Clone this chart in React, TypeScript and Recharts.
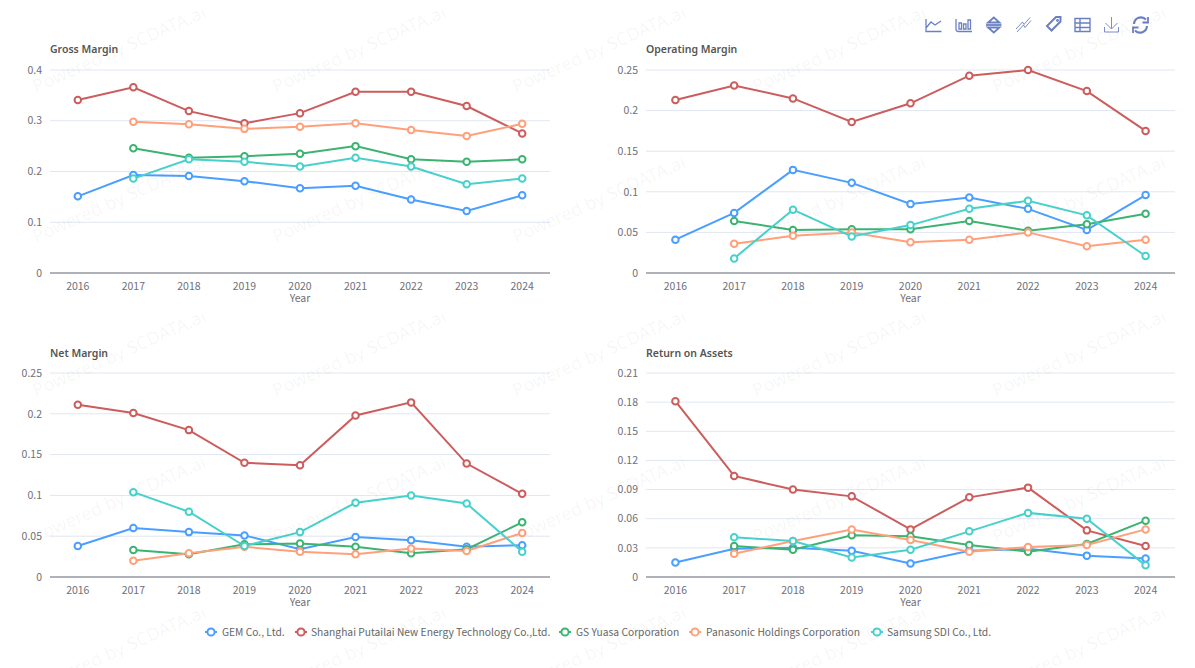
import { LineChart, Line, XAxis, YAxis, CartesianGrid } from "recharts";

const years = ["2016", "2017", "2018", "2019", "2020", "2021", "2022", "2023", "2024"];

type Row = (number | null)[];

const grossGem: Row = [0.151, 0.193, 0.191, 0.181, 0.167, 0.172, 0.145, 0.122, 0.153];
const grossPutailai: Row = [0.341, 0.366, 0.319, 0.295, 0.315, 0.357, 0.357, 0.329, 0.275];
const grossYuasa: Row = [null, 0.246, 0.227, 0.23, 0.235, 0.25, 0.224, 0.219, 0.224];
const grossPanasonic: Row = [null, 0.298, 0.293, 0.284, 0.288, 0.295, 0.282, 0.27, 0.294];
const grossSdi: Row = [null, 0.186, 0.224, 0.219, 0.21, 0.227, 0.21, 0.175, 0.186];

const opGem: Row = [0.041, 0.074, 0.127, 0.111, 0.085, 0.093, 0.079, 0.053, 0.096];
const opPutailai: Row = [0.213, 0.231, 0.215, 0.186, 0.209, 0.243, 0.25, 0.224, 0.175];
const opYuasa: Row = [null, 0.064, 0.053, 0.054, 0.054, 0.064, 0.052, 0.06, 0.073];
const opPanasonic: Row = [null, 0.036, 0.046, 0.05, 0.038, 0.041, 0.05, 0.033, 0.041];
const opSdi: Row = [null, 0.018, 0.078, 0.045, 0.059, 0.079, 0.089, 0.071, 0.021];

const netGem: Row = [0.038, 0.06, 0.055, 0.051, 0.034, 0.049, 0.045, 0.037, 0.039];
const netPutailai: Row = [0.211, 0.201, 0.18, 0.14, 0.137, 0.198, 0.214, 0.139, 0.102];
const netYuasa: Row = [null, 0.033, 0.028, 0.04, 0.041, 0.037, 0.029, 0.034, 0.067];
const netPanasonic: Row = [null, 0.02, 0.029, 0.037, 0.031, 0.028, 0.035, 0.032, 0.054];
const netSdi: Row = [null, 0.104, 0.08, 0.038, 0.055, 0.091, 0.1, 0.09, 0.031];

const roaGem: Row = [0.015, 0.029, 0.03, 0.027, 0.014, 0.027, 0.029, 0.022, 0.019];
const roaPutailai: Row = [0.181, 0.104, 0.09, 0.083, 0.049, 0.082, 0.092, 0.048, 0.032];
const roaYuasa: Row = [null, 0.032, 0.028, 0.043, 0.042, 0.033, 0.026, 0.034, 0.058];
const roaPanasonic: Row = [null, 0.024, 0.037, 0.049, 0.038, 0.026, 0.031, 0.033, 0.049];
const roaSdi: Row = [null, 0.041, 0.037, 0.02, 0.028, 0.047, 0.066, 0.06, 0.012];

const companies = [
  { name: "GEM Co., Ltd.", color: "#4A9EFF", iconX: 211, textX: 222 },
  { name: "Shanghai Putailai New Energy Technology Co.,Ltd.", color: "#CD5C5C", iconX: 301, textX: 311 },
  { name: "GS Yuasa Corporation", color: "#3CB371", iconX: 565, textX: 576 },
  { name: "Panasonic Holdings Corporation", color: "#FFA07A", iconX: 695, textX: 706 },
  { name: "Samsung SDI Co., Ltd.", color: "#48D1CC", iconX: 877, textX: 887 },
];

const panels = [
  { title: "Gross Margin", left: 0, top: 30, titleTop: 11, width: 597, height: 280, right: 47, pad: 27.8, ticks: [0, 0.1, 0.2, 0.3, 0.4], rows: [grossGem, grossPutailai, grossYuasa, grossPanasonic, grossSdi] },
  { title: "Operating Margin", left: 596, top: 30, titleTop: 11, width: 579, height: 280, right: 0, pad: 29.4, ticks: [0, 0.05, 0.1, 0.15, 0.2, 0.25], rows: [opGem, opPutailai, opYuasa, opPanasonic, opSdi] },
  { title: "Net Margin", left: 0, top: 333, titleTop: 12, width: 597, height: 281, right: 47, pad: 27.8, ticks: [0, 0.05, 0.1, 0.15, 0.2, 0.25], rows: [netGem, netPutailai, netYuasa, netPanasonic, netSdi] },
  { title: "Return on Assets", left: 596, top: 333, titleTop: 12, width: 579, height: 281, right: 0, pad: 29.4, ticks: [0, 0.03, 0.06, 0.09, 0.12, 0.15, 0.18, 0.21], rows: [roaGem, roaPutailai, roaYuasa, roaPanasonic, roaSdi] },
];

const FONT = "'Noto Sans CJK SC', 'Noto Sans', sans-serif";
const ICON = "#6B80C4";

function Panel({ p }: any) {
  const data = years.map((year, i) => {
    const row: any = { year };
    companies.forEach((c, k) => { row[c.name] = p.rows[k][i]; });
    return row;
  });
  return (
    <div style={{ position: "absolute", left: p.left, top: p.top }}>
      <div style={{ position: "absolute", left: 50, top: p.titleTop, fontFamily: "'Noto Sans', sans-serif", fontSize: 10.5, fontWeight: 600, color: "#555", lineHeight: "16px", whiteSpace: "nowrap" }}>
        {p.title}
      </div>
      <LineChart width={p.width} height={p.height} data={data} margin={{ top: 40, right: p.right, left: 0, bottom: 0 }} accessibilityLayer={false}>
        <CartesianGrid horizontal vertical={false} stroke="#E0E6F1" strokeWidth={1} />
        <XAxis
          dataKey="year"
          padding={{ left: p.pad, right: p.pad }}
          height={37}
          interval={0}
          tickLine={false}
          axisLine={{ stroke: "#6E7079" }}
          tick={{ fontSize: 10.5, fill: "#6E7079", fontFamily: FONT }}
          tickMargin={4}
          label={{ value: "Year", position: "insideBottom", offset: 8, fontSize: 10.5, fill: "#6E7079", fontFamily: FONT }}
        />
        <YAxis
          width={50}
          domain={[0, p.ticks[p.ticks.length - 1]]}
          ticks={p.ticks}
          interval={0}
          tickLine={false}
          axisLine={false}
          tick={{ fontSize: 10.5, fill: "#6E7079", fontFamily: FONT }}
          tickMargin={2}
        />
        {companies.map((c) => (
          <Line
            key={c.name}
            dataKey={c.name}
            stroke={c.color}
            strokeWidth={2}
            dot={{ r: 3.25, fill: "#fff", stroke: c.color, strokeWidth: 2 }}
            activeDot={false}
            isAnimationActive={false}
          />
        ))}
      </LineChart>
    </div>
  );
}

function Toolbox() {
  const s = { fill: "none", stroke: ICON, strokeWidth: 1.3 };
  return (
    <svg width={1195} height={50} style={{ position: "absolute", left: 0, top: 0 }}>
      <g {...s}>
        <path d="M926 19v12.5h15.5M926 28l5-6 4 3 6-4" />
        <path d="M956 19v10q0 2.5 2.5 2.5h13.5M959 29v-6h2.5v6zM963.5 29v-5h2.5v5zM968 29v-9h2.5v9z" />
        <path d="M986 25h15.5" strokeWidth={1.8} />
        <path d="M988 22.5h11.5l-5.7-5zM988 27.5h11.5l-5.7 5z" strokeWidth={1.8} />
        <path d="M1016 29l6.5-7 1.5 2.5 6-7M1017 32l6.5-7 1.5 2.5 6-7" strokeWidth={0.9} />
        <path d="M1047 26l9-9h4.5v4.5l-9 9z" strokeWidth={2} />
        <circle cx={1057.5} cy={20.5} r={0.8} />
        <path d="M1075 18.5h15v13h-15zM1075 23h15M1075 27.5h15M1080 18.5v13" strokeWidth={1.4} />
        <path d="M1104.5 27v5h14v-5M1111.5 17v11.5M1105.5 23l6 6 6-6" strokeWidth={0.9} />
        <path d="M1134 24a7 7 0 0 1 12-4.5M1147 26a7 7 0 0 1-12 4.5" strokeWidth={2.2} />
        <path d="M1148 17v5.5h-5.5M1133 33v-5.5h5.5" strokeWidth={1.8} />
      </g>
    </svg>
  );
}

const wmRows = [93, 243, 397, 543, 693];
const wmCols = [36, 276, 516, 756, 996];

function Watermark() {
  return (
    <svg width={1195} height={668} style={{ position: "absolute", left: 0, top: 0, pointerEvents: "none" }}>
      {wmRows.map((y) =>
        wmCols.map((x) => (
          <text key={`${x}-${y}`} x={x} y={y} transform={`rotate(-24 ${x} ${y})`} fontSize={18} fontFamily="'Noto Sans', sans-serif" fill="#000" fillOpacity={0.045}>
            Powered by SCDATA.ai
          </text>
        ))
      )}
    </svg>
  );
}

export default function App() {
  return (
    <div style={{ position: "absolute", left: 0, top: 0, width: 1195, height: 668, overflow: "hidden", background: "#fff", fontFamily: FONT }}>
      {panels.map((p) => <Panel key={p.title} p={p} />)}
      {companies.map((c) => (
        <div key={c.name}>
          <svg width={12} height={10} style={{ position: "absolute", left: c.iconX - 6, top: 627 }}>
            <line x1={0} x2={12} y1={5} y2={5} stroke={c.color} strokeWidth={2} />
            <circle cx={6} cy={5} r={3.6} fill="#fff" stroke={c.color} strokeWidth={2} />
          </svg>
          <div style={{ position: "absolute", left: c.textX, top: 624, fontSize: 10.25, lineHeight: "16px", color: "#666", whiteSpace: "nowrap" }}>{c.name}</div>
        </div>
      ))}
      <Toolbox />
      <Watermark />
    </div>
  );
}
